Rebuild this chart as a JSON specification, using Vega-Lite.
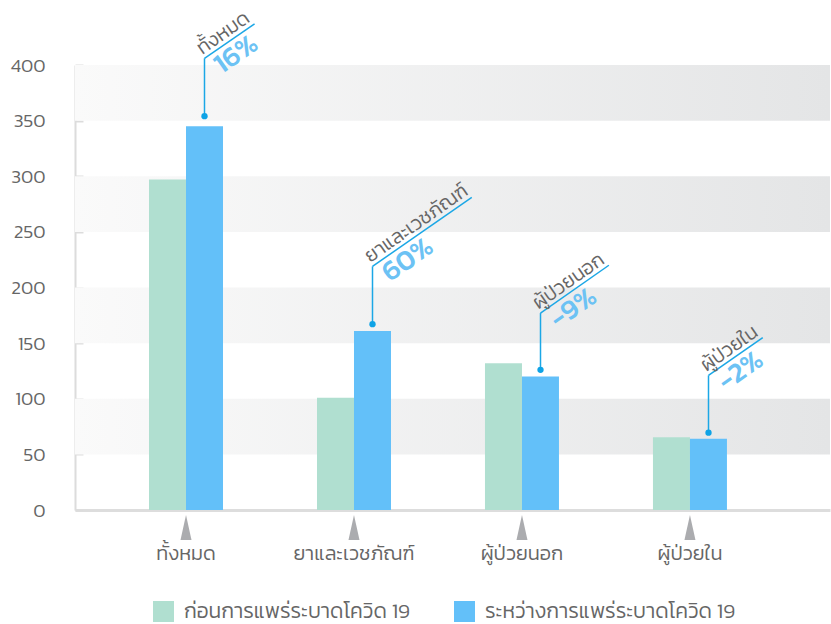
{
  "$schema": "https://vega.github.io/schema/vega-lite/v6.json",
  "width": 755,
  "height": 445,
  "autosize": "none",
  "padding": {"left": 75, "top": 65, "right": 1, "bottom": 114},
  "config": {
    "view": {"stroke": null},
    "font": "Kanit, Prompt, 'Noto Sans Thai', 'Noto Sans Thai UI', Sarabun, 'Noto Sans', sans-serif",
    "axisY": {"domainColor": "#dcdcdc", "domainWidth": 2, "tickColor": "#dcdcdc", "tickWidth": 2, "tickSize": -8, "labelPadding": 38, "labelFontSize": 19, "labelFontWeight": 300, "labelColor": "#666666", "grid": false, "values": [0, 50, 100, 150, 200, 250, 300, 350, 400], "title": null},
    "axisX": {"domainColor": "#dddddd", "domainWidth": 3, "ticks": false, "labelPadding": 33, "labelFontSize": 20, "labelFontWeight": 300, "labelColor": "#666666", "labelAngle": 0, "title": null}
  },
  "datasets": {
    "bars": [
      {"cat": "ทั้งหมด", "period": "ก่อนการแพร่ระบาดโควิด 19", "value": 297},
      {"cat": "ทั้งหมด", "period": "ระหว่างการแพร่ระบาดโควิด 19", "value": 345},
      {"cat": "ยาและเวชภัณฑ์", "period": "ก่อนการแพร่ระบาดโควิด 19", "value": 101},
      {"cat": "ยาและเวชภัณฑ์", "period": "ระหว่างการแพร่ระบาดโควิด 19", "value": 161},
      {"cat": "ผู้ป่วยนอก", "period": "ก่อนการแพร่ระบาดโควิด 19", "value": 132},
      {"cat": "ผู้ป่วยนอก", "period": "ระหว่างการแพร่ระบาดโควิด 19", "value": 120},
      {"cat": "ผู้ป่วยใน", "period": "ก่อนการแพร่ระบาดโควิด 19", "value": 65.5},
      {"cat": "ผู้ป่วยใน", "period": "ระหว่างการแพร่ระบาดโควิด 19", "value": 64}
    ],
    "bands": [
      {"lo": 50, "hi": 100},
      {"lo": 150, "hi": 200},
      {"lo": 250, "hi": 300},
      {"lo": 350, "hi": 400}
    ],
    "notes": [
      {"cat": "ทั้งหมด", "pos": 0, "dot": 354, "corner": 406, "endX": 0.298, "endY": 437, "pct": "16%"},
      {"cat": "ยาและเวชภัณฑ์", "pos": 1, "dot": 167, "corner": 219, "endX": 1.591, "endY": 281, "pct": "60%"},
      {"cat": "ผู้ป่วยนอก", "pos": 2, "dot": 126, "corner": 177, "endX": 2.407, "endY": 220, "pct": "-9%"},
      {"cat": "ผู้ป่วยใน", "pos": 3, "dot": 69.5, "corner": 121, "endX": 3.323, "endY": 155, "pct": "-2%"}
    ]
  },
  "layer": [
    {
      "layer": [
        {
          "data": {"name": "bands"},
          "mark": {"type": "rect", "color": {"gradient": "linear", "x1": 0, "x2": 1, "y1": 0, "y2": 0, "stops": [{"offset": 0, "color": "#fafafa"}, {"offset": 1, "color": "#e4e5e6"}]}},
          "encoding": {
            "y": {"field": "lo", "type": "quantitative", "scale": {"domain": [0, 400]}, "title": null},
            "y2": {"field": "hi"}
          }
        },
        {
          "data": {"name": "bars"},
          "mark": {"type": "bar"},
          "encoding": {
            "x": {"field": "cat", "type": "nominal", "sort": null, "title": null, "scale": {"paddingInner": 0.5595, "paddingOuter": 0.527, "align": 0.418}},
            "xOffset": {"field": "period", "type": "nominal", "sort": null},
            "y": {"field": "value", "type": "quantitative", "title": null},
            "color": {
              "field": "period", "type": "nominal", "sort": null,
              "scale": {"domain": ["ก่อนการแพร่ระบาดโควิด 19", "ระหว่างการแพร่ระบาดโควิด 19"], "range": ["#b0dfd0", "#63c0f9"]},
              "legend": {"title": null, "orient": "none", "legendX": 78, "legendY": 536, "direction": "horizontal", "symbolType": "square", "symbolSize": 441, "symbolStrokeWidth": 0, "symbolOpacity": 1, "labelFontSize": 21, "labelFontWeight": 300, "labelColor": "#666666", "columnPadding": 44, "labelOffset": 10, "padding": 0, "labelLimit": 400}
            }
          }
        },
        {
          "data": {"name": "notes"},
          "mark": {"type": "point", "shape": "M0,-1L0.44,1L-0.44,1Z", "filled": true, "color": "#abacaf", "opacity": 1, "size": 625, "yOffset": 17.5},
          "encoding": {
            "x": {"field": "cat", "type": "nominal", "sort": null, "title": null},
            "y": {"datum": 0, "type": "quantitative"}
          }
        }
      ]
    },
    {
      "data": {"name": "notes"},
      "layer": [
        {
          "mark": {"type": "rule", "color": "#1ba7e6", "strokeWidth": 1.5},
          "encoding": {
            "x": {"field": "pos", "type": "quantitative", "scale": {"domain": [-0.7708, 3.7232], "nice": false, "zero": false}, "axis": null},
            "y": {"field": "dot", "type": "quantitative"},
            "y2": {"field": "corner"}
          }
        },
        {
          "mark": {"type": "rule", "color": "#1ba7e6", "strokeWidth": 1.5},
          "encoding": {
            "x": {"field": "pos", "type": "quantitative", "axis": null},
            "y": {"field": "corner", "type": "quantitative"},
            "x2": {"field": "endX"},
            "y2": {"field": "endY"}
          }
        },
        {
          "mark": {"type": "point", "filled": true, "color": "#0ea3e6", "opacity": 1, "size": 40},
          "encoding": {
            "x": {"field": "pos", "type": "quantitative", "axis": null},
            "y": {"field": "dot", "type": "quantitative"}
          }
        },
        {
          "mark": {"type": "text", "angle": 325, "align": "left", "baseline": "alphabetic", "dx": 0, "dy": -4, "fontSize": 20, "fontWeight": 300, "color": "#666666"},
          "encoding": {
            "x": {"field": "pos", "type": "quantitative", "axis": null},
            "y": {"field": "corner", "type": "quantitative"},
            "text": {"field": "cat"}
          }
        },
        {
          "mark": {"type": "text", "angle": 325, "align": "left", "baseline": "top", "dx": 5, "dy": 1, "fontSize": 28, "fontWeight": 500, "color": "#6cc2f4"},
          "encoding": {
            "x": {"field": "pos", "type": "quantitative", "axis": null},
            "y": {"field": "corner", "type": "quantitative"},
            "text": {"field": "pct"}
          }
        }
      ]
    }
  ],
  "resolve": {"scale": {"x": "independent"}}
}
